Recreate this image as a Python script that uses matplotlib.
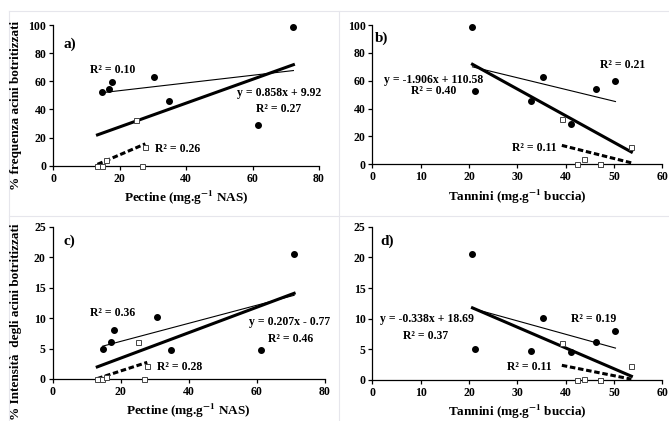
import numpy as np
import matplotlib
matplotlib.use('Agg')
import matplotlib.pyplot as plt
from matplotlib.lines import Line2D

plt.rcParams['font.family'] = ['Liberation Serif', 'DejaVu Serif']
plt.rcParams['font.weight'] = 'bold'
plt.rcParams['mathtext.fontset'] = 'stix'

# Data (circles = filled, squares = open)
pect_circ_a = [14.6, 16.9, 17.7, 30.4, 34.8, 61.6, 72.3]
freq_circ = [52.6, 54.3, 59.7, 63.3, 45.7, 28.9, 98.5]
pect_sq_a = [13.3, 14.7, 15.8, 24.9, 27.7, 26.6]
freq_sq = [0, 0, 4.0, 32.5, 13.1, 0]

tann_circ = [20.7, 21.2, 32.9, 35.4, 41.1, 46.3, 50.3]
tann_sq = [39.2, 42.3, 43.8, 47.0, 53.6, 47.0]
freq_circ_b = [98.5, 52.9, 45.7, 62.9, 29.0, 54.3, 59.8]
freq_sq_b = [32.3, 0, 3.8, 0, 12.6, 0]

pect_circ_c = [14.7, 17.1, 18.0, 30.8, 34.9, 61.4, 71.0]
int_circ = [5.0, 6.1, 8.0, 10.1, 4.75, 4.75, 20.5]
pect_sq_c = [13.1, 14.5, 15.8, 25.2, 27.8, 26.8]
int_sq = [0, 0, 0.4, 6.0, 2.1, 0]

int_circ_d = [20.5, 5.1, 4.8, 10.05, 4.6, 6.15, 8.0]
int_sq_d = [6.0, 0, 0.15, 0, 2.3, 0]

panels = [
    dict(xc=pect_circ_a, yc=freq_circ, xs=pect_sq_a, ys=freq_sq, xmax=80, xstep=20, ymax=100, ystep=20,
         rect=[0.0797, 0.6064, 0.3971, 0.3342], tag='a)', tagpos=(0.037, 0.865),
         xlabel='Pectine (mg.g$^{\\mathbf{-1}}$ NAS)',
         notes=[('R² = 0.10', 17.8, 68), ('y = 0.858x + 9.92', 68.0, 51.7), ('R² = 0.27', 67.8, 40),
                ('R² = 0.26', 37.4, 11.9)]),
    dict(xc=tann_circ, yc=freq_circ_b, xs=tann_sq, ys=freq_sq_b, xmax=60, xstep=10, ymax=100, ystep=20,
         rect=[0.5568, 0.6097, 0.4332, 0.3309], tag='b)', tagpos=(0.009, 0.903),
         xlabel='Tannini (mg.g$^{\\mathbf{-1}}$ buccia)',
         notes=[('R² = 0.21', 51.7, 71.3), ('y = -1.906x + 110.58', 12.6, 60.5), ('R² = 0.40', 12.6, 52.6),
                ('R² = 0.11', 33.4, 11.5)]),
    dict(xc=pect_circ_c, yc=int_circ, xs=pect_sq_c, ys=int_sq, xmax=80, xstep=20, ymax=25, ystep=5,
         rect=[0.0788, 0.0998, 0.4066, 0.3618], tag='c)', tagpos=(0.038, 0.906),
         xlabel='Pectine (mg.g$^{\\mathbf{-1}}$ NAS)',
         notes=[('R² = 0.36', 17.6, 10.9), ('y = 0.207x - 0.77', 69.8, 9.3), ('R² = 0.46', 70.0, 6.5),
                ('R² = 0.28', 37.4, 1.9)]),
    dict(xc=tann_circ, yc=int_circ_d, xs=tann_sq, ys=int_sq_d, xmax=60, xstep=10, ymax=25, ystep=5,
         rect=[0.5568, 0.0974, 0.4332, 0.3641], tag='d)', tagpos=(0.026, 0.903),
         xlabel='Tannini (mg.g$^{\\mathbf{-1}}$ buccia)',
         notes=[('y = -0.338x + 18.69', 11.2, 9.9), ('R² = 0.37', 11.0, 7.15), ('R² = 0.19', 45.7, 9.95),
                ('R² = 0.11', 32.4, 2.2)]),
]

fig = plt.figure(figsize=(6.69, 4.21), dpi=100)

# faint screenshot frames
for seg in [((0.0135, 0.0135), (0, 0.974)), ((0.0135, 1), (0.974, 0.974)), ((0.507, 0.507), (0, 0.974)),
            ((0.0135, 1), (0.487, 0.487))]:
    fig.add_artist(Line2D(seg[0], seg[1], color='#e6e6ec', lw=0.8))


def fit_line(ax, x, y, **kw):
    x = np.asarray(x, float)
    y = np.asarray(y, float)
    k, b = np.polyfit(x, y, 1)
    xx = np.array([x.min(), x.max()])
    ax.plot(xx, k * xx + b, **kw)


for p in panels:
    ax = fig.add_axes(p['rect'])
    fit_line(ax, p['xc'], p['yc'], color='black', lw=0.8, zorder=2)
    fit_line(ax, p['xs'], p['ys'], color='black', lw=2.2, linestyle=(0, (1.8, 0.9)), zorder=2)
    fit_line(ax, list(p['xc']) + list(p['xs']), list(p['yc']) + list(p['ys']), color='black', lw=2.2, zorder=2)
    ax.plot(p['xs'], p['ys'], 's', ms=3.6, mfc='white', mec='#444444', mew=0.7, zorder=3, clip_on=False)
    ax.plot(p['xc'], p['yc'], 'o', ms=4, color='black', zorder=4, clip_on=False)

    ax.set_xlim(0, p['xmax'])
    ax.set_ylim(0, p['ymax'])
    ax.set_xticks(np.arange(0, p['xmax'] + 1, p['xstep']))
    ax.set_yticks(np.arange(0, p['ymax'] + 1, p['ystep']))
    for s in ['top', 'right']:
        ax.spines[s].set_visible(False)
    for s in ['left', 'bottom']:
        ax.spines[s].set_linewidth(0.9)
    ax.tick_params(direction='out', length=3, width=0.9, labelsize=8.5, pad=2)
    for lab in ax.get_xticklabels() + ax.get_yticklabels():
        lab.set_fontweight('bold')
    ax.set_xlabel(p['xlabel'], fontsize=9.5, fontweight='bold', labelpad=3)
    ax.text(p['tagpos'][0], p['tagpos'][1], p['tag'], transform=ax.transAxes, fontsize=11,
            fontweight='bold', va='center', ha='left')
    for txt, tx, ty in p['notes']:
        ax.text(tx, ty, txt, fontsize=8.5, fontweight='bold', ha='center', va='center')
    ax.patch.set_alpha(0)

fig.text(0.024, 1 - 105 / 421, '% frequenza acini botritizzati', rotation=90, fontsize=9.5,
         fontweight='bold', ha='center', va='center')
fig.text(0.024, 1 - 322 / 421, '% Intensità  degli acini botritizzati', rotation=90, fontsize=9.5,
         fontweight='bold', ha='center', va='center')

fig.savefig('out.png', dpi=100)
